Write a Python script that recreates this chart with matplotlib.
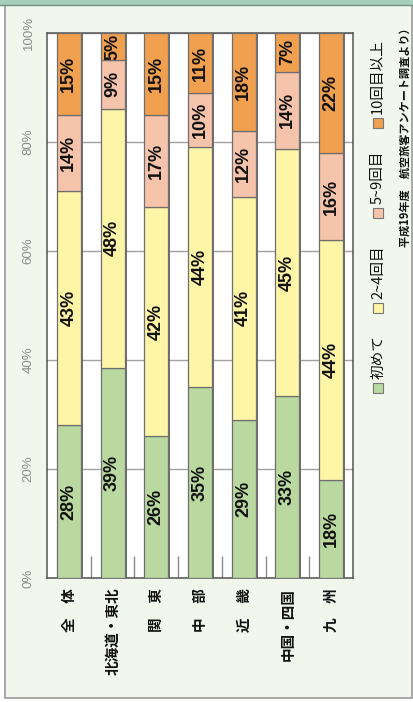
import numpy as np
import matplotlib
matplotlib.use("Agg")
import matplotlib.pyplot as plt
from matplotlib.patches import Rectangle

# --- data ---
regions = ["全　体", "北海道・東北", "関　東", "中　部", "近　畿", "中国・四国", "九　州"]
series = ["初めて", "2~4回目", "5~9回目", "10回目以上"]
first_time = [28, 39, 26, 35, 29, 33, 18]
two_to_four = [43, 48, 42, 44, 41, 45, 44]
five_to_nine = [14, 9, 17, 10, 12, 14, 16]
ten_plus = [15, 5, 15, 11, 18, 7, 22]
y_ticks = [0, 20, 40, 60, 80, 100]
source_note = "平成19年度　航空旅客アンケート調査より）"

colors = ["#b9d9a0", "#fff5a6", "#f6c3ab", "#f0a04e"]
jp = ["Noto Sans CJK JP", "DejaVu Sans"]
num = ["Liberation Sans", "DejaVu Sans"]

W, H = 414, 702
fig = plt.figure(figsize=(W / 100, H / 100), dpi=100)
fig.patch.set_facecolor("white")


def px(x, y):
    """pixel (from top-left) -> figure fraction"""
    return x / W, 1 - y / H


# panel background, border and top band
fig.add_artist(Rectangle(px(5, 698), 407 / W, 693 / H, transform=fig.transFigure,
                         facecolor="#f2f7ee", edgecolor="#9a9a9a", lw=1.2, zorder=0))
fig.add_artist(Rectangle(px(0, 4.5), 1, 4.5 / H, transform=fig.transFigure,
                         facecolor="#a5cfbb", edgecolor="none", zorder=0))
fig.add_artist(plt.Line2D([0, 1], [1 - 4.5 / H] * 2, transform=fig.transFigure,
                          color="#6f8f80", lw=1))

l, b = px(47, 578)
r, t = px(353, 33)
ax = fig.add_axes([l, b, r - l, t - b])
ax.set_facecolor("white")

data = np.array([first_time, two_to_four, five_to_nine, ten_plus], dtype=float)
# rounded shares don't always add to 100 -> bars are drawn as shares of the total
shares = data / data.sum(axis=0) * 100
x = np.arange(len(regions))
width = 0.55

# shadow behind each bar
ax.bar(x + 0.045, shares.sum(axis=0), width, color="#707070", zorder=2)

bottom = np.zeros(len(regions))
for vals, lab, c in zip(shares, data, colors):
    ax.bar(x, vals, width, bottom=bottom, color=c, edgecolor="#6e6e6e",
           lw=0.9, zorder=3)
    for xi, v, b0, n in zip(x, vals, bottom, lab):
        ax.text(xi, b0 + v / 2, f"{n:.0f}%", rotation=90, ha="center",
                va="center", fontsize=13, fontweight="bold", family=num,
                color="#111", zorder=4)
    bottom += vals

ax.set_xlim(-0.5, len(regions) - 0.5)
ax.set_ylim(0, 100)
ax.set_yticks(y_ticks)
ax.set_yticklabels([f"{v}%" for v in y_ticks], rotation=90, va="center",
                   fontsize=9.5, color="#8c8c8c", family=num)
ax.tick_params(axis="y", length=0, pad=9)
ax.set_xticks(x)
ax.set_xticklabels(regions, rotation=90, fontsize=10.5, fontweight="bold",
                   family=jp, color="#111")
ax.tick_params(axis="x", length=0, pad=7)
ax.set_xticks(np.arange(0.5, len(regions) - 0.5), minor=True)
ax.tick_params(axis="x", which="minor", direction="in", length=16,
               color="#8a8a8a", width=1)
ax.grid(axis="y", color="#a0a0a0", lw=1, zorder=1)
for s in ax.spines.values():
    s.set_color("#555555")
    s.set_linewidth(1.1)

# legend drawn rotated in the right margin
sq_y = [388, 308, 213, 123]
for name, c, yy in zip(series, colors, sq_y):
    fig.add_artist(Rectangle(px(373, yy + 5), 10 / W, 10 / H,
                             transform=fig.transFigure, facecolor=c,
                             edgecolor="#777", lw=0.8))
    fig.text(*px(378, yy - 9), name, rotation=90, ha="center", va="bottom",
             fontsize=10.5, family=jp, color="#111")

fig.text(*px(405, 247), source_note, rotation=90, ha="center", va="bottom",
         fontsize=8, fontweight="bold", family=jp, color="#111")

fig.savefig("out.png", dpi=100)
